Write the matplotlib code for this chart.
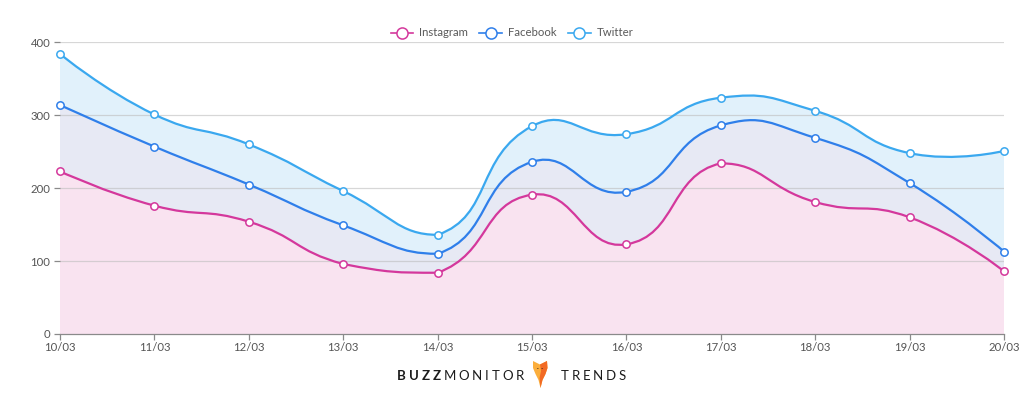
import matplotlib
matplotlib.use('Agg')
import matplotlib.pyplot as plt
import numpy as np
from matplotlib.path import Path
from matplotlib.patches import PathPatch, Polygon, Circle
from matplotlib.lines import Line2D

dates = ['10/03', '11/03', '12/03', '13/03', '14/03', '15/03', '16/03',
         '17/03', '18/03', '19/03', '20/03']
instagram = [223, 176, 154, 96, 84, 191, 123, 234, 181, 160, 86]
facebook = [314, 257, 205, 149, 110, 236, 195, 286, 269, 207, 113]
twitter = [384, 301, 260, 196, 136, 285, 274, 324, 306, 248, 251]
y_ticks = [0, 100, 200, 300, 400]
series_names = ['Instagram', 'Facebook', 'Twitter']

line_colors = {'Instagram': '#d4389c', 'Facebook': '#2f7fea', 'Twitter': '#3aa8ef'}
fill_colors = {'Instagram': '#f9e3f0', 'Facebook': '#e7e9f4', 'Twitter': '#e1f1fb'}

plt.rcParams['font.family'] = ['Lato', 'DejaVu Sans']

W, H = 1024, 398
fig = plt.figure(figsize=(W / 100, H / 100), dpi=100)
ax = fig.add_axes([60 / W, 1 - 334 / H, 944 / W, (334 - 42.3) / H])
xs = np.arange(len(dates))
ax.set_xlim(xs[0], xs[-1])
ax.set_ylim(y_ticks[0], y_ticks[-1])


def smooth_path(xv, yv, smooth=0.5):
    pts = ax.transData.transform(np.column_stack([xv, yv]).astype(float))
    lo = pts.min(axis=0)
    hi = pts.max(axis=0)
    verts = [pts[0]]
    codes = [Path.MOVETO]
    n = len(pts)
    cp0 = pts[0].copy()
    for i in range(1, n):
        p = pts[i]
        prev = pts[i - 1]
        if i < n - 1:
            nxt = pts[i + 1]
            v = nxt - prev
            l0 = np.hypot(*(p - prev))
            l1 = np.hypot(*(nxt - p))
            r = l1 / (l0 + l1)
            cp1 = p - v * smooth * (1 - r)
            ncp0 = p + v * smooth * r
        else:
            cp1 = p.copy()
            ncp0 = p.copy()
        cp0c = np.clip(cp0, lo, hi)
        cp1c = np.clip(cp1, lo, hi)
        verts += [cp0c, cp1c, p]
        codes += [Path.CURVE4] * 3
        cp0 = ncp0
    verts = ax.transData.inverted().transform(np.array(verts))
    return verts, codes


data = {'Instagram': instagram, 'Facebook': facebook, 'Twitter': twitter}

# fills (back to front)
for name in ['Twitter', 'Facebook', 'Instagram']:
    v, c = smooth_path(xs, data[name])
    fv = np.vstack([v, [[xs[-1], 0], [xs[0], 0], [xs[0], data[name][0]]]])
    fc = c + [Path.LINETO, Path.LINETO, Path.CLOSEPOLY]
    ax.add_patch(PathPatch(Path(fv, fc), facecolor=fill_colors[name],
                           edgecolor='none', zorder=1))

# grid lines
for yt in y_ticks[1:]:
    ax.axhline(yt, color='#bdbdbd', lw=0.9, alpha=0.6, zorder=1.5)

# lines + markers
for name in ['Twitter', 'Facebook', 'Instagram']:
    v, c = smooth_path(xs, data[name])
    ax.add_patch(PathPatch(Path(v, c), facecolor='none',
                           edgecolor=line_colors[name], lw=1.6, zorder=3,
                           capstyle='round', joinstyle='round'))
    ax.plot(xs, data[name], ls='none', marker='o', ms=5.3, mfc='white',
            mec=line_colors[name], mew=1.1, zorder=4, clip_on=False)

for s in ['top', 'right', 'left']:
    ax.spines[s].set_visible(False)
ax.spines['bottom'].set_color('#8a8a8a')
ax.spines['bottom'].set_linewidth(0.9)
ax.set_xticks(xs)
ax.set_xticklabels(dates)
ax.set_yticks(y_ticks)
ax.tick_params(axis='both', colors='#8a8a8a', labelcolor='#555555',
               labelsize=8.2, length=4, width=0.9)
ax.tick_params(axis='y', pad=3)
ax.tick_params(axis='x', pad=2)

handles = [Line2D([], [], color=line_colors[n], lw=1.2, marker='o', ms=8,
                  mfc='white', mec=line_colors[n], mew=1.1) for n in series_names]
fig.legend(handles, series_names, loc='center', bbox_to_anchor=(512 / W, 1 - 33 / H),
           ncol=3, frameon=False, fontsize=8.2, labelcolor='#5a5a5a',
           handlelength=2.0, handletextpad=0.5, columnspacing=1.0)

# footer branding
renderer = fig.canvas.get_renderer()


def spaced(segments, x_start, x_end, y_base, size):
    items = []
    for s, weight in segments:
        for ch in s:
            t = fig.text(0, 0, ch, fontsize=size, fontweight=weight,
                         color='#1c1c1c', va='baseline', ha='left')
            w = t.get_window_extent(renderer=renderer).width
            items.append((t, w))
    total = sum(w for _, w in items)
    track = (x_end - x_start - total) / (len(items) - 1)
    x = x_start
    for t, w in items:
        t.set_position((x / W, 1 - y_base / H))
        x += w + track


spaced([('BUZZ', 'bold'), ('MONITOR', 'normal')], 397, 524, 380.5, 9.5)
spaced([('TRENDS', 'normal')], 561, 626, 380.5, 9.5)


def px(pts):
    return [(x / W, 1 - y / H) for x, y in pts]


fox = [(533, 361), (537, 363), (540, 364.5), (543, 363), (547, 361), (547.5, 368),
       (545.5, 374), (542.5, 380), (540.5, 388), (538.5, 380), (535.5, 374), (533, 368)]
fig.patches.append(Polygon(px(fox), closed=True, transform=fig.transFigure,
                           facecolor='#fbae3c', edgecolor='none'))
fox_dark = [(540, 364.5), (543, 363), (547, 361), (547.5, 368), (545.5, 374),
            (542.5, 380), (540.5, 388), (539.5, 378), (541, 371)]
fig.patches.append(Polygon(px(fox_dark), closed=True, transform=fig.transFigure,
                           facecolor='#f26a24', edgecolor='none'))
for ex in (537.8, 542.2):
    fig.patches.append(Circle((ex / W, 1 - 368.5 / H), 0.9 / W,
                              transform=fig.transFigure, facecolor='#3a2a20',
                              edgecolor='none'))

fig.savefig('out.png', dpi=100)
